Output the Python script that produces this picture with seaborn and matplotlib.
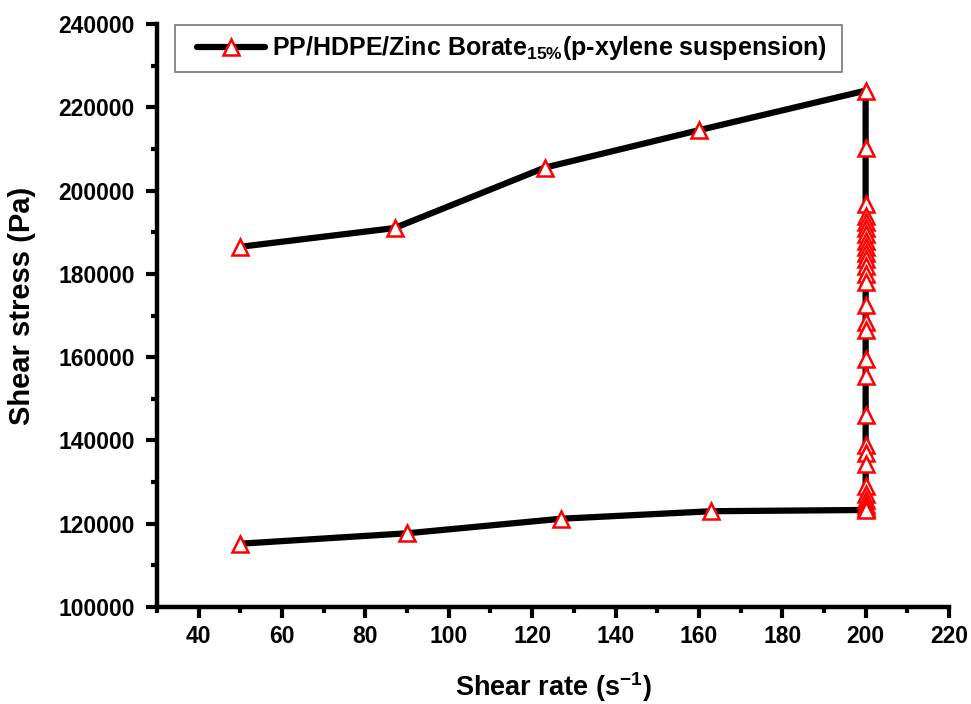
import numpy as np
import pandas as pd
import seaborn as sns
import matplotlib
matplotlib.use("Agg")
import matplotlib.pyplot as plt
from matplotlib.ticker import MultipleLocator
from matplotlib.patches import Rectangle

# ramp-up branch
up_rate = [50, 87, 123, 160, 200]
up_stress = [186500, 191000, 205500, 214500, 224000]
# hold at 200 s^-1
hold_stress = [210200, 196800, 194000, 192500, 191000, 189500, 188000, 186500,
               185000, 183500, 182000, 180000, 178000, 172500, 168500, 166500,
               159500, 155500, 146000, 139000, 137000, 134300, 129000, 127200,
               125800, 124600, 123800]
hold_rate = [200] * len(hold_stress)
# ramp-down branch
down_rate = [200, 163, 127, 90, 50]
down_stress = [123300, 123000, 121200, 117700, 115200]

rate = up_rate + hold_rate + down_rate
stress = up_stress + hold_stress + down_stress
df = pd.DataFrame({"rate": rate, "stress": stress})

sns.set_theme(style="white")
plt.rcParams['font.family'] = ['Liberation Sans', 'DejaVu Sans']
plt.rcParams['mathtext.fontset'] = 'custom'
plt.rcParams['mathtext.rm'] = 'Liberation Sans:bold'
plt.rcParams['mathtext.bf'] = 'Liberation Sans:bold'
for k in ["text.color", "axes.labelcolor", "xtick.color", "ytick.color", "axes.edgecolor"]:
    plt.rcParams[k] = "black"

W, H = 971, 704
fig = plt.figure(figsize=(W / 100, H / 100), dpi=100)
ax = fig.add_axes([157 / W, 1 - 607 / H, (949 - 157) / W, (607 - 24) / H])

sns.lineplot(data=df, x="rate", y="stress", sort=False, estimator=None, ax=ax,
             color="black", linewidth=4.5, marker="^", markersize=12,
             markerfacecolor="white", markeredgecolor="red", markeredgewidth=1.8,
             label=r"PP/HDPE/Zinc Borate$_{\mathbf{15\%}}$(p-xylene suspension)")

ax.set_xlim(30, 220)
ax.set_ylim(100000, 240000)
ax.set_xticks(np.arange(40, 221, 20))
ax.xaxis.set_minor_locator(MultipleLocator(10))
ax.yaxis.set_major_locator(MultipleLocator(20000))
ax.yaxis.set_minor_locator(MultipleLocator(10000))

for s in ["top", "right"]:
    ax.spines[s].set_visible(False)
for s in ["left", "bottom"]:
    ax.spines[s].set_linewidth(3.2)
    ax.spines[s].set_color("black")

ax.tick_params(which="major", direction="out", length=8, width=3, labelsize=16.5,
               left=True, bottom=True, pad=5)
ax.tick_params(axis="y", which="major", pad=8)
ax.tick_params(which="minor", direction="out", length=4.5, width=3, left=True, bottom=True)
for lab in ax.get_xticklabels() + ax.get_yticklabels():
    lab.set_fontweight("bold")

ax.set_xlabel(r"Shear rate (s$^{\mathbf{-1}}$)", fontsize=19.5, fontweight="bold")
ax.set_ylabel("Shear stress (Pa)", fontsize=21, fontweight="bold")
ax.xaxis.set_label_coords(0.5, -0.108)
ax.yaxis.set_label_coords(-0.153, 0.516)

# legend frame box
box = Rectangle((175 / W, 1 - 72 / H), (842 - 175) / W, (72 - 25) / H,
                transform=fig.transFigure, facecolor="white",
                edgecolor="#777777", linewidth=1.2, zorder=5, clip_on=False)
ax.add_patch(box)
leg = ax.legend(loc="center left", bbox_to_anchor=(197 / W, 1 - 48.5 / H),
                bbox_transform=fig.transFigure, frameon=False,
                handlelength=2.72, handletextpad=0.28, borderpad=0.0, borderaxespad=0.0,
                prop={"weight": "bold", "size": 18})
leg.set_zorder(6)

fig.savefig("out.png", dpi=100)
